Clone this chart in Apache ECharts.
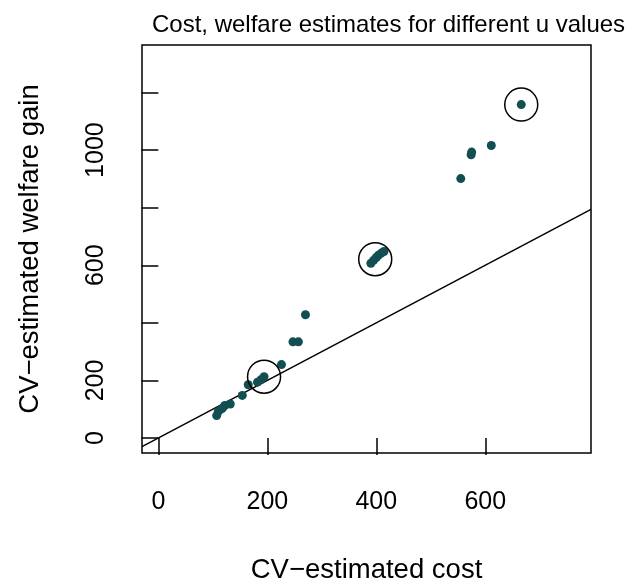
<!DOCTYPE html>
<html>
<head>
<meta charset="utf-8">
<script src="https://cdn.jsdelivr.net/npm/echarts@6/dist/echarts.min.js"></script>
<style>
  html, body { margin: 0; padding: 0; background: #fff; }
  #chart { width: 637px; height: 585px; }
</style>
</head>
<body>
<div id="chart"></div>
<script>
// CV-estimated cost (x) and welfare gain (y) for each u value
const costX = [107, 110, 117, 122, 132, 154, 165, 182, 188, 194, 226, 247, 257, 270,
               390, 395, 400, 404, 409, 414, 555, 574, 575, 611, 666];
const welfareY = [78, 92, 102, 113, 118, 148, 185, 194, 202, 213, 255, 334, 334, 428,
                  607, 617, 627, 635, 642, 648, 901, 984, 993, 1016, 1158];

// highlighted u values
const circledX = [194, 398, 666];
const circledY = [213, 621, 1158];

// 45-degree reference line (welfare = cost)
const refLine = [-30, 794];

const xTicks = [0, 200, 400, 600];
const yTicks = [0, 200, 400, 600, 800, 1000, 1200];
const yTickLabels = [0, 200, 600, 1000];

const FONT = "'Liberation Sans', Arial, Helvetica, sans-serif";

const chart = echarts.init(document.getElementById('chart'), null, { renderer: 'canvas' });

chart.setOption({
  animation: false,
  backgroundColor: '#ffffff',
  title: {
    text: 'Cost, welfare estimates for different u values',
    left: 147,
    top: 8,
    textStyle: { fontFamily: FONT, fontWeight: 'normal', fontSize: 24, color: '#000' }
  },
  grid: {
    left: 142, top: 45, width: 449, height: 408,
    show: true, borderColor: '#000', borderWidth: 1.5,
    backgroundColor: 'transparent',
    outerBoundsMode: 'none'
  },
  xAxis: {
    type: 'value',
    min: -30, max: 794,
    name: 'CV\u2212estimated cost',
    nameLocation: 'middle',
    nameGap: 117,
    nameTextStyle: { fontFamily: FONT, fontSize: 27.5, color: '#000', verticalAlign: 'middle' },
    axisLine: { show: false },
    splitLine: { show: false },
    axisTick: { show: true, length: 17, customValues: xTicks, lineStyle: { color: '#000', width: 1.5 } },
    axisLabel: { customValues: xTicks, margin: 37, fontFamily: FONT, fontSize: 25, color: '#000',
                 formatter: v => String(v) }
  },
  yAxis: {
    type: 'value',
    min: -52, max: 1365,
    name: 'CV\u2212estimated welfare gain',
    nameLocation: 'middle',
    nameGap: 112,
    nameRotate: 90,
    nameTextStyle: { fontFamily: FONT, fontSize: 27.5, color: '#000', verticalAlign: 'middle' },
    axisLine: { show: false },
    splitLine: { show: false },
    axisTick: { show: true, length: 17, customValues: yTicks, lineStyle: { color: '#000', width: 1.5 } },
    axisLabel: { customValues: yTickLabels, rotate: 90, margin: 33, fontFamily: FONT, fontSize: 25, color: '#000',
                 formatter: v => String(v) }
  },
  series: [
    {
      type: 'line',
      data: refLine.map(v => [v, v]),
      symbol: 'none',
      lineStyle: { color: '#000', width: 1.5 },
      clip: true,
      z: 1
    },
    {
      type: 'scatter',
      data: costX.map((x, i) => [x, welfareY[i]]),
      symbol: 'circle',
      symbolSize: 9,
      itemStyle: { color: '#124f53', opacity: 1 },
      z: 2
    },
    {
      type: 'scatter',
      data: circledX.map((x, i) => [x, circledY[i]]),
      symbol: 'circle',
      symbolSize: 33,
      itemStyle: { color: 'transparent', borderColor: '#000', borderWidth: 1.5, opacity: 1 },
      z: 3
    }
  ]
});
</script>
</body>
</html>
